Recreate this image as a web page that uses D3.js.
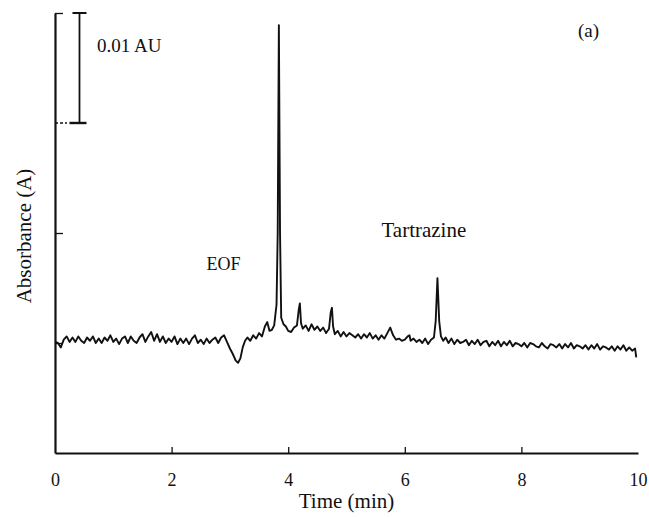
<!DOCTYPE html>
<html>
<head>
<meta charset="utf-8">
<script src="https://cdn.jsdelivr.net/npm/d3@7"></script>
<style>
  body { margin: 0; background: #fff; }
  svg text { font-family: "Liberation Serif", "DejaVu Serif", serif; fill: #111; }
</style>
</head>
<body>
<div id="chart"></div>
<script>
(function() {

// time axis (min)
var timeTicks = [0, 2, 4, 6, 8, 10];

// absorbance ticks (mAU, unlabelled in the figure)
var absTicks = [0, 10, 20, 30, 40];

// scale bar: 0.01 AU = 10 mAU
var scaleBar = {time: 0.42, from: 30, to: 40, label: "0.01 AU"};

// peak labels
var peakLabels = [
    {text: "EOF",        time: 2.6,  abs: 16.6, size: 18},
    {text: "Tartrazine", time: 5.6,  abs: 19.6, size: 21}
];

// electropherogram trace
var times = [
    0.00, 0.05, 0.10, 0.15, 0.20, 0.25, 0.30, 0.35, 0.40, 0.45,
    0.50, 0.55, 0.60, 0.65, 0.70, 0.75, 0.80, 0.85, 0.90, 0.95,
    1.00, 1.05, 1.10, 1.15, 1.20, 1.25, 1.30, 1.35, 1.40, 1.45,
    1.50, 1.55, 1.60, 1.65, 1.70, 1.75, 1.80, 1.85, 1.90, 1.95,
    2.00, 2.05, 2.10, 2.15, 2.20, 2.25, 2.30, 2.35, 2.40, 2.45,
    2.50, 2.55, 2.60, 2.65, 2.70, 2.75, 2.80, 2.85, 2.90, 2.95,
    3.00, 3.05, 3.10, 3.14, 3.18, 3.22, 3.26, 3.30, 3.35, 3.40,
    3.45, 3.50, 3.55, 3.60, 3.64, 3.68, 3.72, 3.76, 3.80, 3.82,
    3.84, 3.86, 3.88, 3.92, 3.96, 4.00, 4.05, 4.10, 4.15, 4.18,
    4.20, 4.22, 4.25, 4.30, 4.35, 4.40, 4.45, 4.50, 4.55, 4.60,
    4.65, 4.70, 4.73, 4.75, 4.77, 4.80, 4.85, 4.90, 4.95, 5.00,
    5.05, 5.10, 5.15, 5.20, 5.25, 5.30, 5.35, 5.40, 5.45, 5.50,
    5.55, 5.60, 5.65, 5.70, 5.75, 5.80, 5.85, 5.90, 5.95, 6.00,
    6.05, 6.08, 6.10, 6.15, 6.20, 6.25, 6.30, 6.35, 6.40, 6.45,
    6.50, 6.53, 6.56, 6.59, 6.62, 6.66, 6.70, 6.75, 6.80, 6.85,
    6.90, 6.95, 7.00, 7.05, 7.10, 7.15, 7.20, 7.25, 7.30, 7.35,
    7.40, 7.45, 7.50, 7.55, 7.60, 7.65, 7.70, 7.75, 7.80, 7.85,
    7.90, 7.95, 8.00, 8.05, 8.10, 8.15, 8.20, 8.25, 8.30, 8.35,
    8.40, 8.45, 8.50, 8.55, 8.60, 8.65, 8.70, 8.75, 8.80, 8.85,
    8.90, 8.95, 9.00, 9.05, 9.10, 9.15, 9.20, 9.25, 9.30, 9.35,
    9.40, 9.45, 9.50, 9.55, 9.60, 9.65, 9.70, 9.75, 9.80, 9.85,
    9.90, 9.95, 9.97
];

var absorbance = [
    10.1, 10.0,  9.6, 10.3, 10.6, 10.1, 10.5, 10.1, 10.6, 10.2,
    10.0, 10.5, 10.2, 10.6, 10.0, 10.4, 10.0, 10.5, 10.2, 10.7,
    10.1, 10.4,  9.9, 10.4, 10.6, 10.0, 10.6, 10.2, 10.0, 10.5,
    10.8, 10.1, 10.6, 11.0, 10.2, 10.8, 10.1, 10.6, 10.0, 10.4,
    10.1, 10.6,  9.9, 10.4, 10.0, 10.4,  9.9, 10.4, 10.7, 10.0,
    10.3,  9.9, 10.4, 10.0, 10.3, 10.5, 10.0, 10.5, 10.7, 10.1,
     9.5,  9.0,  8.4,  8.2,  8.6,  9.6, 10.2, 10.5, 10.2, 10.7,
    10.4, 10.9, 10.6, 11.5, 11.9, 11.1, 11.2, 11.6, 13.5, 20.0,
    38.9, 20.0, 12.3, 11.7, 11.5, 11.1, 11.0, 11.4, 11.6, 13.0,
    13.6, 11.8, 11.3, 11.6, 11.1, 11.7, 11.2, 11.5, 11.1, 11.4,
    10.9, 11.3, 12.8, 13.2, 11.5, 10.8, 11.1, 10.6, 11.0, 10.6,
    10.9, 10.7, 10.5, 10.8, 10.4, 10.8, 10.5, 10.9, 10.4, 10.7,
    10.3, 10.7, 10.4, 10.9, 11.4, 10.7, 10.3, 10.4, 10.2, 10.3,
    10.6, 10.7, 10.2, 10.4, 10.1, 10.3, 10.0, 10.4,  9.9, 10.3,
    10.5, 12.0, 15.9, 12.0, 10.6, 10.2, 10.5, 10.0, 10.4,  9.9,
    10.3, 10.0, 10.1, 10.3,  9.8, 10.2,  9.9, 10.3,  9.8, 10.1,
    10.2,  9.7, 10.1,  9.8, 10.2,  9.7, 10.1,  9.8, 10.2,  9.7,
    10.0,  9.9,  9.7, 10.0,  9.6, 10.0,  9.9,  9.7,  9.6, 10.0,
     9.7,  9.5,  9.9,  9.8,  9.6,  9.9,  9.5,  9.9,  9.6, 10.0,
     9.5,  9.8,  9.7,  9.5,  9.8,  9.4,  9.8,  9.5,  9.9,  9.4,
     9.7,  9.6,  9.4,  9.7,  9.3,  9.7,  9.4,  9.8,  9.3,  9.6,
     9.3,  9.5,  8.7
];


/**
 * Set up the SVG.
 */
var width  = 649,
    height = 517,
    serif  = "Liberation Serif, DejaVu Serif, serif";

var svg = d3.select("#chart").append("svg")
            .attr("width", width)
            .attr("height", height)
            .attr("font-family", serif);

svg.append("rect")
   .attr("width", width)
   .attr("height", height)
   .attr("fill", "#fff");

var xScale = d3.scaleLinear()
               .domain([0, 10])
               .range([55, 638]);

var yScale = d3.scaleLinear()
               .domain([0, 40])
               .range([453, 13]);


/**
 * Axes: ticks point inwards, y axis has no labels.
 */
var xAxis = d3.axisBottom(xScale)
              .tickValues(timeTicks)
              .tickSize(-6)
              .tickPadding(20)
              .tickSizeOuter(0)
              .tickFormat(d3.format("d"));

var xGroup = svg.append("g")
                .attr("class", "x-axis")
                .attr("transform", "translate(0," + yScale(0) + ")")
                .call(xAxis)
                .attr("font-family", serif)
                .attr("font-size", 18);
xGroup.select(".domain").attr("stroke", "#111").attr("stroke-width", 2.2);
xGroup.selectAll(".tick line").attr("stroke", "#111").attr("stroke-width", 1.3);
xGroup.selectAll(".tick").filter(function(d) { return d === 0 || d === 10; })
      .select("line").remove();
xGroup.selectAll(".tick text").attr("fill", "#111");

var yAxis = d3.axisLeft(yScale)
              .tickValues(absTicks)
              .tickSize(-8)
              .tickSizeOuter(0)
              .tickFormat("");

var yGroup = svg.append("g")
                .attr("class", "y-axis")
                .attr("transform", "translate(" + xScale(0) + ",0)")
                .call(yAxis);
yGroup.select(".domain").attr("stroke", "#111").attr("stroke-width", 2.2);
yGroup.selectAll(".tick line").attr("stroke", "#111").attr("stroke-width", 1.3);
yGroup.selectAll(".tick").filter(function(d) { return d === 0 || d === 30; })
      .select("line").remove();

// the tick at the bottom of the scale bar is dashed
yGroup.append("line")
      .attr("x1", 0)
      .attr("x2", 12)
      .attr("y1", yScale(scaleBar.from))
      .attr("y2", yScale(scaleBar.from))
      .attr("stroke", "#111")
      .attr("stroke-width", 1.3)
      .attr("stroke-dasharray", "3,2");

svg.append("text")
   .attr("x", (xScale(0) + xScale(10)) / 2)
   .attr("y", 508)
   .attr("text-anchor", "middle")
   .attr("font-size", 21)
   .text("Time (min)");

svg.append("text")
   .attr("transform", "translate(31,236) rotate(-90)")
   .attr("text-anchor", "middle")
   .attr("font-size", 21)
   .text("Absorbance (A)");


/**
 * Scale bar.
 */
var barX = xScale(scaleBar.time);
var bar = svg.append("g").attr("class", "scale-bar");

bar.append("line")
   .attr("x1", barX).attr("x2", barX)
   .attr("y1", yScale(scaleBar.to)).attr("y2", yScale(scaleBar.from))
   .attr("stroke", "#111").attr("stroke-width", 1.8);

bar.append("line")
   .attr("x1", barX - 7).attr("x2", barX + 7)
   .attr("y1", yScale(scaleBar.to)).attr("y2", yScale(scaleBar.to))
   .attr("stroke", "#111").attr("stroke-width", 2);

bar.append("line")
   .attr("x1", barX - 10).attr("x2", barX + 7)
   .attr("y1", yScale(scaleBar.from)).attr("y2", yScale(scaleBar.from))
   .attr("stroke", "#111").attr("stroke-width", 2.4);

bar.append("text")
   .attr("x", xScale(0.72))
   .attr("y", yScale(36.5))
   .attr("font-size", 19)
   .text(scaleBar.label);


/**
 * Trace.
 */
var trace = d3.zip(times, absorbance);

var line = d3.line()
             .x(function(d) { return xScale(d[0]); })
             .y(function(d) { return yScale(d[1]); });

svg.append("path")
   .datum(trace)
   .attr("class", "trace")
   .attr("d", line)
   .attr("fill", "none")
   .attr("stroke", "#111")
   .attr("stroke-width", 1.9)
   .attr("stroke-linejoin", "round");


/**
 * Labels.
 */
svg.selectAll("text.peak-label")
   .data(peakLabels)
   .enter().append("text")
   .attr("class", "peak-label")
   .attr("x", function(d) { return xScale(d.time); })
   .attr("y", function(d) { return yScale(d.abs); })
   .attr("font-size", function(d) { return d.size; })
   .text(function(d) { return d.text; });

svg.append("text")
   .attr("x", 578)
   .attr("y", 37)
   .attr("font-size", 19)
   .text("(a)");

})();
</script>
</body>
</html>
